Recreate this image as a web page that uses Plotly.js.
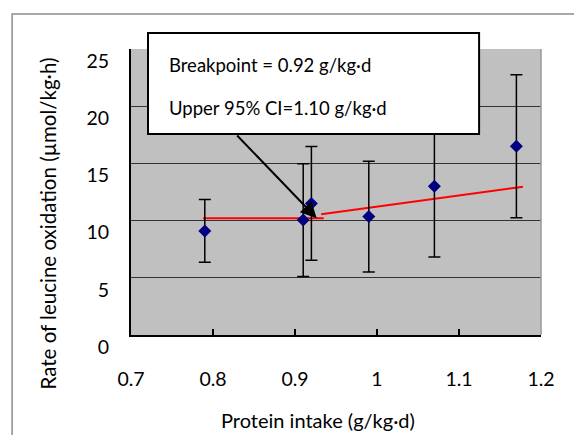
<!DOCTYPE html>
<html>
<head>
<meta charset="utf-8">
<script src="https://cdn.plot.ly/plotly-3.0.1.min.js"></script>
<style>html,body{margin:0;padding:0;background:#fff;}#chart{width:574px;height:435px;}</style>
</head>
<body>
<div id="chart"></div>
<script>
// Data
const proteinIntake = [0.79, 0.91, 0.92, 0.99, 1.07, 1.17];
const leucineOxidation = [9.1, 10.05, 11.5, 10.35, 13.0, 16.5];
const errorSD = [2.75, 4.93, 4.97, 4.84, 6.18, 6.25];

const fitFlatX = [0.788, 0.935];
const fitFlatY = [10.2, 10.2];
const fitRiseX = [0.932, 1.178];
const fitRiseY = [10.55, 12.96];

const xTicks = [0.7, 0.8, 0.9, 1.0, 1.1, 1.2];
const xTickText = ['0.7', '0.8', '0.9', '1', '1.1', '1.2'];
const yTicks = [0, 5, 10, 15, 20, 25];

const xTitle = 'Protein intake (g/kg·d)';
const yTitle = 'Rate of leucine oxidation (µmol/kg·h)';
const breakpointText = 'Breakpoint = 0.92 g/kg·d';
const ciText = 'Upper 95% CI=1.10 g/kg·d';
const arrowHead = {x: 0.9265, y: 10.2};
const arrowTail = {x: 0.8277, y: 17.57};

const FONT = 'Lato, "Open Sans", sans-serif';

const traces = [
  {
    x: fitFlatX, y: fitFlatY, type: 'scatter', mode: 'lines',
    line: {color: '#ff0000', width: 2}, hoverinfo: 'skip', showlegend: false
  },
  {
    x: fitRiseX, y: fitRiseY, type: 'scatter', mode: 'lines',
    line: {color: '#ff0000', width: 2}, hoverinfo: 'skip', showlegend: false
  },
  {
    x: proteinIntake, y: leucineOxidation, type: 'scatter', mode: 'markers',
    marker: {symbol: 'diamond', size: 10, color: '#000080'},
    error_y: {type: 'data', array: errorSD, visible: true, color: '#000000', thickness: 1.5, width: 6},
    showlegend: false
  }
];

const layout = {
  width: 574, height: 435,
  margin: {l: 131, r: 33, t: 49, b: 100},
  paper_bgcolor: '#ffffff',
  plot_bgcolor: '#c0c0c0',
  font: {family: FONT, color: '#000000'},
  showlegend: false,
  xaxis: {
    range: [0.7, 1.2],
    tickvals: xTicks, ticktext: xTickText,
    ticks: 'inside', ticklen: 6, tickcolor: '#000', tickwidth: 1.5,
    showgrid: false, zeroline: false,
    showline: true, linecolor: '#000', linewidth: 2,
    tickfont: {size: 19.5, family: FONT, color: '#000'},
    ticklabelstandoff: 26,
    automargin: false
  },
  yaxis: {
    range: [0, 25],
    tickvals: yTicks,
    ticks: '', showgrid: true, gridcolor: '#333333', gridwidth: 1,
    zeroline: false,
    showline: true, linecolor: '#000', linewidth: 2,
    tickfont: {size: 19.5, family: FONT, color: '#000'},
    ticklabelshift: 12,
    ticklabelstandoff: 16,
    automargin: false
  },
  shapes: [
    // outer chart frame
    {type: 'rect', xref: 'paper', yref: 'paper', x0: -0.29, x1: 1.1, y0: -0.4, y1: 1.122,
     line: {color: '#8c8c8c', width: 1.5}, fillcolor: 'rgba(0,0,0,0)', layer: 'below'},
    // right plot border
    {type: 'line', xref: 'paper', yref: 'paper', x0: 1, x1: 1, y0: 0, y1: 1,
     line: {color: '#9a9a9a', width: 1.5}},
    // annotation box
    {type: 'rect', xref: 'paper', yref: 'paper', x0: 0.0415, x1: 0.849, y0: 0.703, y1: 1.056,
     line: {color: '#000000', width: 2}, fillcolor: '#ffffff', layer: 'above'}
  ],
  annotations: [
    // axis titles (placed as in the reference, off-centre)
    {xref: 'paper', yref: 'paper', x: 0.455, y: -0.296, xanchor: 'center', yanchor: 'middle',
     text: xTitle, showarrow: false, font: {size: 20, family: FONT, color: '#000'}},
    {xref: 'paper', yref: 'paper', x: -0.2024, y: 0.39, xanchor: 'center', yanchor: 'middle',
     textangle: -90, text: yTitle, showarrow: false, font: {size: 20.5, family: FONT, color: '#000'}},
    {xref: 'paper', yref: 'paper', x: 0.0878, y: 0.944, xanchor: 'left', yanchor: 'middle',
     text: breakpointText, showarrow: false, font: {size: 18.5, family: FONT, color: '#000'}},
    {xref: 'paper', yref: 'paper', x: 0.0878, y: 0.794, xanchor: 'left', yanchor: 'middle',
     text: ciText, showarrow: false, font: {size: 18.5, family: FONT, color: '#000'}},
    {xref: 'x', yref: 'y', x: arrowHead.x, y: arrowHead.y, axref: 'x', ayref: 'y',
     ax: arrowTail.x, ay: arrowTail.y, text: '', showarrow: true,
     arrowhead: 2, arrowsize: 1.6, arrowwidth: 2, arrowcolor: '#000000'}
  ]
};

Plotly.newPlot('chart', traces, layout, {displayModeBar: false, staticPlot: true});
</script>
</body>
</html>
